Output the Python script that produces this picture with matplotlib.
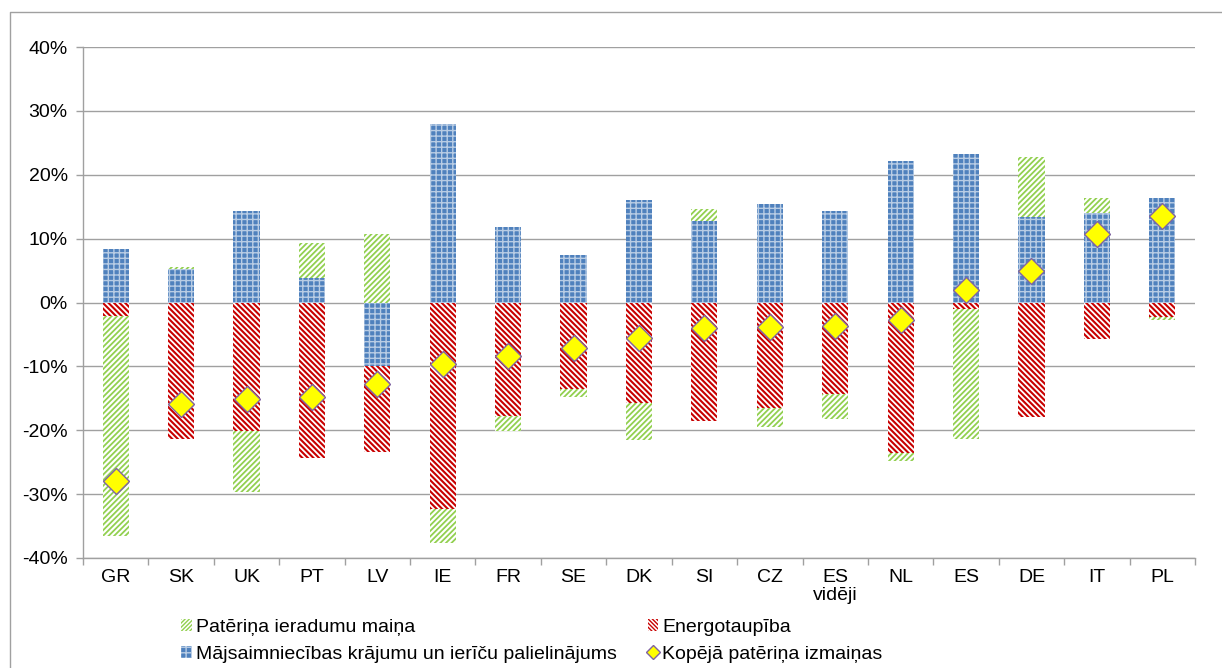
import matplotlib

matplotlib.use("Agg")
import matplotlib.pyplot as plt
import numpy as np
from matplotlib.lines import Line2D
from matplotlib.patches import Patch
from matplotlib.ticker import FuncFormatter, FixedLocator

plt.rcParams["font.family"] = ["Liberation Sans", "DejaVu Sans"]

# values in percent
countries = ["GR", "SK", "UK", "PT", "LV", "IE", "FR", "SE", "DK", "SI", "CZ",
             "ES\nvidēji", "NL", "ES", "DE", "IT", "PL"]
stock = [8.4, 5.2, 14.4, 3.9, -10.0, 27.9, 11.8, 7.5, 16.0, 12.8, 15.5,
         14.4, 22.1, 23.3, 13.4, 14.0, 16.4]
savings = [-2.1, -21.4, -20.1, -24.3, -13.4, -32.3, -17.7, -13.6, -15.7, -18.5, -16.5,
           -14.4, -23.5, -1.0, -17.9, -5.7, -2.3]
habits = [-34.4, 0.4, -9.5, 5.4, 10.7, -5.3, -2.4, -1.2, -5.8, 1.8, -3.0,
          -3.9, -1.3, -20.3, 9.4, 2.4, -0.5]
total = [-28.0, -15.9, -15.1, -14.8, -12.7, -9.7, -8.3, -7.2, -5.5, -4.0, -3.9,
         -3.7, -2.7, 2.0, 4.9, 10.7, 13.6]

labels = ["Patēriņa ieradumu maiņa", "Energotaupība",
          "Mājsaimniecības krājumu un ierīču palielinājums", "Kopējā patēriņa izmaiņas"]

GREEN = "#92D050"
RED = "#C80000"
BLUE = "#4F81BD"
GRID = "#A0A0A0"
FS = 14

fig = plt.figure(figsize=(12.22, 6.68), dpi=100)
ax = fig.add_axes([0.0679, 0.1647, 0.9100, 0.7649])

x = np.arange(len(countries))
width = 0.4
pos_base = np.zeros(len(x))
neg_base = np.zeros(len(x))

# Excel stacking order: stock, savings, habits (pos and neg stacked separately)
series = [
    (stock, dict(facecolor=BLUE, edgecolor=(1, 1, 1, 0.6), hatch="+++"), 1.0),
    (savings, dict(facecolor="white", edgecolor=RED, hatch="\\" * 6), 1.5),
    (habits, dict(facecolor="white", edgecolor=GREEN, hatch="/" * 6), 1.3),
]
for vals, style, hlw in series:
    v = np.array(vals)
    base = np.where(v >= 0, pos_base, neg_base)
    with plt.rc_context({"hatch.linewidth": hlw}):
        ax.bar(x, v, width, bottom=base, linewidth=0, zorder=2, **style)
    pos_base += np.where(v >= 0, v, 0)
    neg_base += np.where(v < 0, v, 0)

ax.plot(x, total, linestyle="none", marker="D", markersize=13,
        markerfacecolor="#FFFF00", markeredgecolor="#8064A2",
        markeredgewidth=1.0, zorder=4)

ax.set_ylim(-40, 40)
ax.set_xlim(-0.5, len(x) - 0.5)
ax.set_yticks(np.arange(-40, 41, 10))
ax.yaxis.set_major_formatter(FuncFormatter(lambda v, _: f"{v:.0f}%"))
ax.grid(axis="y", color=GRID, linewidth=1.0, zorder=0)
ax.set_axisbelow(True)

ax.set_xticks(x)
ax.set_xticklabels(countries, fontsize=FS, linespacing=1.05)
ax.xaxis.set_minor_locator(FixedLocator(np.arange(-0.5, len(x), 1)))
ax.tick_params(axis="x", which="major", length=0, pad=8)
ax.tick_params(axis="x", which="minor", length=5, color=GRID, width=1.0)
ax.tick_params(axis="y", length=5, color=GRID, width=1.0, labelsize=FS, pad=6)

for side in ["top", "right"]:
    ax.spines[side].set_visible(False)
for side in ["left", "bottom"]:
    ax.spines[side].set_color(GRID)
    ax.spines[side].set_linewidth(1.0)

# outer chart border (only top and left visible in the crop)
fig.add_artist(Line2D([10 / 1222, 10 / 1222, 1.0], [0.0, 1 - 12 / 668, 1 - 12 / 668],
                      transform=fig.transFigure, color=GRID, linewidth=1.0))

with plt.rc_context({"hatch.linewidth": 1.2}):
    h_green = Patch(facecolor="white", edgecolor=GREEN, hatch="/" * 8, linewidth=0)
    h_red = Patch(facecolor="white", edgecolor=RED, hatch="\\" * 8, linewidth=0)
with plt.rc_context({"hatch.linewidth": 0.6}):
    h_blue = Patch(facecolor=BLUE, edgecolor=(1, 1, 1, 0.6), hatch="+++", linewidth=0)
h_total = Line2D([], [], linestyle="none", marker="D", markersize=7,
                 markerfacecolor="#FFFF00", markeredgecolor="#8064A2",
                 markeredgewidth=1.0)
# columns read: green/blue | red/diamond
fig.legend([h_green, h_blue, h_red, h_total],
           [labels[0], labels[2], labels[1], labels[3]],
           ncol=2, loc="upper left", bbox_to_anchor=(181 / 1222, 1 - 619 / 668),
           frameon=False, fontsize=FS, handlelength=0.55, handleheight=0.55,
           handletextpad=0.2, columnspacing=1.6, labelspacing=0.5, borderpad=0,
           borderaxespad=0)

fig.savefig("out.png", dpi=100)
